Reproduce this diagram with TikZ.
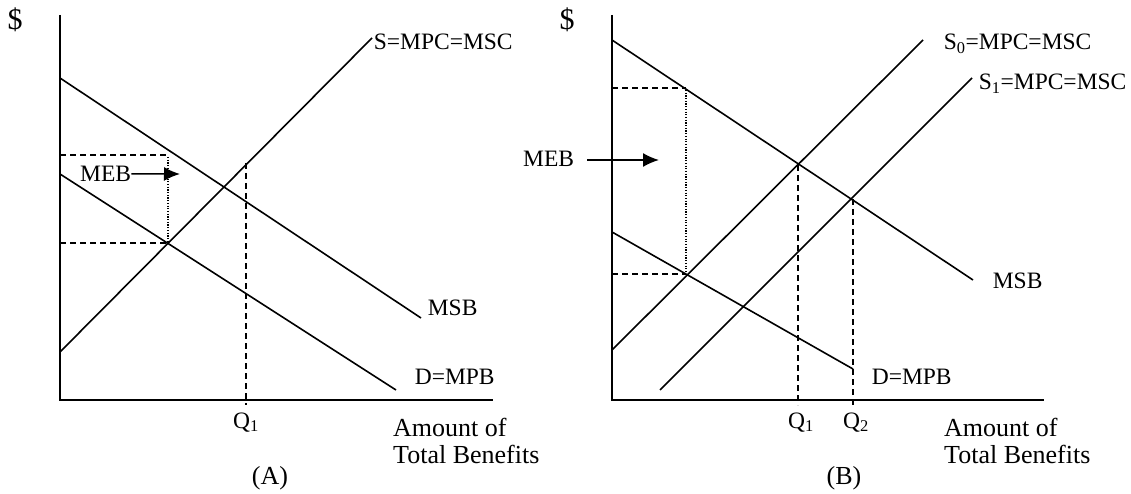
\documentclass[tikz,border=0pt]{standalone}
\usepackage{fontspec}
\setmainfont{Liberation Serif}
\usetikzlibrary{arrows.meta}
\newcommand\lblfont{\fontsize{23.5}{28}\selectfont}
\newcommand\bigfont{\fontsize{26}{27}\selectfont}
\tikzset{
  axis/.style={line width=2.2pt},
  curve/.style={line width=1.6pt},
  guide/.style={line width=1.6pt,dash pattern=on 6pt off 4pt},
  dotline/.style={line width=1.2pt,dash pattern=on 1.2pt off 1.5pt},
  lbl/.style={inner sep=0pt,anchor=base west,font=\lblfont},
  big/.style={inner sep=0pt,font=\bigfont},
}

\begin{document}
\begin{tikzpicture}[x=1pt,y=-1pt,>={Latex[length=16pt,width=14pt]}]
\useasboundingbox (0,0) rectangle (1131,494);
\begin{scope}
  \draw[axis] (60,15)--(60,400)--(493,400);
  \node[big,anchor=base,font=\fontsize{30}{30}\selectfont] (dolA) at (15,30) {\$};
  \draw[curve] (60,78)--(421,318) node[lbl] (msbA) at (427,315.5) {MSB};
  \draw[curve] (60,174)--(396,390) node[lbl] (dA) at (414,384.5) {D=MPB};
  \draw[curve] (60,352)--(372,38) node[lbl] (sA) at (373,49.5) {S=MPC=MSC};
  \draw[guide] (60,155)--(168,155);
  \draw[guide] (60,243)--(168,243);
  \draw[dotline] (168,157)--(168,243);
  \draw[guide] (246,163)--(246,405);
  \node[lbl] (mebA) at (80,181.5) {MEB};
  \draw[->,line width=1.6pt] (mebA.east)--(180,174);
  \node[lbl,anchor=base] (qA) at (246,428) {Q\textsubscript{1}};
  \node[big,anchor=north west,align=left] (amtA) at (393,417.5) {Amount of\\Total Benefits};
  \node[big] (capA) at (270,478) {(A)};
\end{scope}
\begin{scope}[xshift=552pt]
  \draw[axis] (60,15)--(60,400)--(492,400);
  \node[big,anchor=base,font=\fontsize{30}{30}\selectfont] (dolB) at (15,30) {\$};
  \draw[curve] (60,40)--(421,280) node[lbl] (msbB) at (440,288.5) {MSB};
  \draw[curve] (60,232)--(301,369) node[lbl] (dB) at (319,384.5) {D=MPB};
  \draw[curve] (60,350)--(371,40) node[lbl] (s0B) at (391,49.5) {S\textsubscript{0}=MPC=MSC};
  \draw[curve] (108,390)--(420,78) node[lbl] (s1B) at (426,89.5) {S\textsubscript{1}=MPC=MSC};
  \draw[guide] (60,88)--(134,88);
  \draw[guide] (60,274)--(134,274);
  \draw[dotline] (134,90)--(134,274);
  \draw[guide] (246,165)--(246,405);
  \draw[guide] (301,199)--(301,405);
  \node[lbl] (mebB) at (-29,166.5) {MEB};
  \draw[->,line width=1.6pt] (35,160)--(107,160);
  \node[lbl,anchor=base] (q1B) at (249,428) {Q\textsubscript{1}};
  \node[lbl,anchor=base] (q2B) at (304,428) {Q\textsubscript{2}};
  \node[big,anchor=north west,align=left] (amtB) at (392,417.5) {Amount of\\Total Benefits};
  \node[big] (capB) at (292,478) {(B)};
\end{scope}
\end{tikzpicture}
\end{document}
